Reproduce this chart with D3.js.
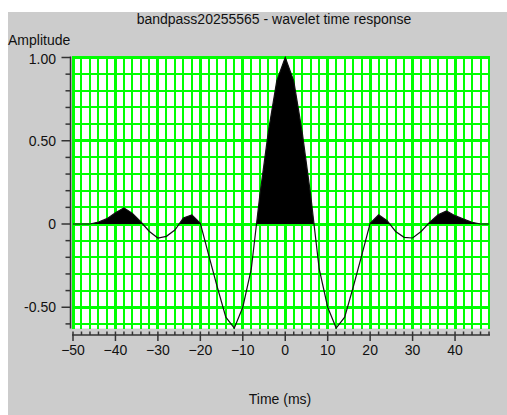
<!DOCTYPE html>
<html>
<head>
<meta charset="utf-8">
<script src="https://cdn.jsdelivr.net/npm/d3@7"></script>
<style>
  html, body { margin: 0; padding: 0; background: #ffffff; }
  svg { display: block; }
  text { font-family: "Liberation Sans", Arial, sans-serif; font-size: 14px; fill: #111; }
</style>
</head>
<body>
<svg id="chart" width="507" height="415"></svg>
<script>
// Wavelet samples (2 ms interval)
const timeMs = [-50, -48, -46, -44, -42, -40, -38, -36, -34, -32, -30, -28, -26, -24, -22, -20, -18, -16, -14, -12,
                -10, -8, -6, -4, -2, 0, 2, 4, 6, 8, 10, 12, 14, 16, 18, 20, 22, 24, 26, 28,
                30, 32, 34, 36, 38, 40, 42, 44, 46, 48];
const amplitude = [0, 0, 0, 0.012, 0.032, 0.068, 0.097, 0.064, 0.012, -0.045, -0.084, -0.074, -0.036, 0.036, 0.055, 0.004, -0.19, -0.38, -0.56, -0.625,
                   -0.50, -0.27, 0.17, 0.55, 0.86, 1.0, 0.86, 0.55, 0.17, -0.27, -0.50, -0.625, -0.56, -0.38, -0.19, 0.004, 0.055, 0.02, -0.045, -0.08,
                   -0.084, -0.045, 0.01, 0.055, 0.078, 0.05, 0.03, 0.01, 0, 0];

// Axis ticks
const xMajorTicks = [-50, -40, -30, -20, -10, 0, 10, 20, 30, 40];
const xMinorTicks = [-50, -48, -46, -44, -42, -40, -38, -36, -34, -32, -30, -28, -26, -24, -22, -20, -18, -16, -14, -12,
                     -10, -8, -6, -4, -2, 0, 2, 4, 6, 8, 10, 12, 14, 16, 18, 20, 22, 24, 26, 28,
                     30, 32, 34, 36, 38, 40, 42, 44, 46, 48];
const yMajorTicks = [1.0, 0.5, 0, -0.5];
const yMajorLabels = ["1.00", "0.50", "0", "-0.50"];
const yMinorTicks = [1.0, 0.9, 0.8, 0.7, 0.6, 0.5, 0.4, 0.3, 0.2, 0.1, 0, -0.1, -0.2, -0.3, -0.4, -0.5, -0.6];

const titleText = "bandpass20255565 - wavelet time response";
const yAxisTitle = "Amplitude";
const xAxisTitle = "Time (ms)";

const data = timeMs.map((t, i) => ({ t, v: amplitude[i] }));

const svg = d3.select("#chart");

// panel background
svg.append("rect").attr("x", 8).attr("y", 12).attr("width", 499).attr("height", 403).attr("fill", "#cccccc");

const x = d3.scaleLinear().domain([d3.min(timeMs), d3.max(timeMs)]).range([73, 489]);
const yMin = d3.min(amplitude);
const y = d3.scaleLinear().domain([yMin, 1.0]).range([224 + 166.5 * (-yMin), 57.5]);

const plotLeft = 72, plotRight = 490, plotTop = 56.5, plotBottom = y(yMin) + 0.5;

svg.append("rect")
  .attr("x", plotLeft).attr("y", plotTop)
  .attr("width", plotRight - plotLeft).attr("height", plotBottom - plotTop)
  .attr("fill", "#ffffff");

// grid
const grid = svg.append("g").attr("shape-rendering", "crispEdges").attr("stroke", "#00ff00");
grid.selectAll("line.vx").data(xMinorTicks).join("line")
  .attr("x1", d => x(d)).attr("x2", d => x(d))
  .attr("y1", plotTop).attr("y2", plotBottom)
  .attr("stroke-width", d => xMajorTicks.includes(d) ? 3 : 2);
grid.selectAll("line.hy").data(yMinorTicks).join("line")
  .attr("x1", plotLeft).attr("x2", plotRight)
  .attr("y1", d => y(d)).attr("y2", d => y(d))
  .attr("stroke-width", d => yMajorTicks.some(m => Math.abs(m - d) < 1e-9) ? 3 : 2);

// positive lobes filled (variable area)
const clipId = "posClip";
svg.append("clipPath").attr("id", clipId)
  .append("rect").attr("x", plotLeft).attr("y", plotTop - 5)
  .attr("width", plotRight - plotLeft).attr("height", y(0) - plotTop + 5);

svg.append("path")
  .datum(data)
  .attr("clip-path", `url(#${clipId})`)
  .attr("fill", "#000")
  .attr("d", d3.area().x(d => x(d.t)).y0(y(0)).y1(d => y(d.v)));

// wiggle trace
svg.append("path")
  .datum(data)
  .attr("fill", "none")
  .attr("stroke", "#111")
  .attr("stroke-width", 1.2)
  .attr("d", d3.line().x(d => x(d.t)).y(d => y(d.v)));

// y axis
const axisColor = "#333";
const yAxisX = 70.5;
svg.append("line").attr("x1", yAxisX).attr("x2", yAxisX).attr("y1", plotTop).attr("y2", plotBottom)
  .attr("stroke", axisColor).attr("stroke-width", 1.5);
svg.append("g").selectAll("line").data(yMinorTicks).join("line")
  .attr("x1", d => yMajorTicks.some(m => Math.abs(m - d) < 1e-9) ? yAxisX - 9 : yAxisX - 5)
  .attr("x2", yAxisX)
  .attr("y1", d => y(d)).attr("y2", d => y(d))
  .attr("stroke", axisColor).attr("stroke-width", 1.5);
svg.append("g").selectAll("text").data(yMajorTicks).join("text")
  .attr("x", 56)
  .attr("y", d => Math.max(y(d), plotTop + 3))
  .attr("dy", "0.35em")
  .attr("text-anchor", "end")
  .text((d, i) => yMajorLabels[i]);

// x axis
const xAxisY = 335;
svg.append("line").attr("x1", plotLeft).attr("x2", plotRight).attr("y1", xAxisY).attr("y2", xAxisY)
  .attr("stroke", axisColor).attr("stroke-width", 1.5);
svg.append("g").selectAll("line").data(xMinorTicks).join("line")
  .attr("x1", d => x(d)).attr("x2", d => x(d))
  .attr("y1", xAxisY - 3.5)
  .attr("y2", d => xMajorTicks.includes(d) ? xAxisY + 6 : xAxisY)
  .attr("stroke", axisColor).attr("stroke-width", 1.5);
svg.append("g").selectAll("text").data(xMajorTicks).join("text")
  .attr("x", d => x(d))
  .attr("y", xAxisY + 10)
  .attr("dy", "0.71em")
  .attr("text-anchor", "middle")
  .text(d => d3.format("d")(d));

// titles
svg.append("text").attr("x", 274).attr("y", 24).attr("text-anchor", "middle").text(titleText);
svg.append("text").attr("x", 8).attr("y", 45).text(yAxisTitle);
svg.append("text").attr("x", 280).attr("y", 404).attr("text-anchor", "middle").text(xAxisTitle);
</script>
</body>
</html>
